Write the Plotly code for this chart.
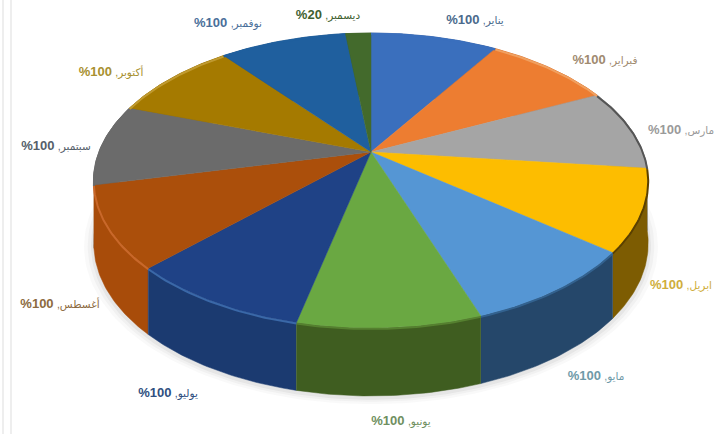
import numpy as np
import plotly.graph_objects as go

months = ["يناير", "فبراير", "مارس", "ابريل", "مايو", "يونيو", "يوليو", "أغسطس", "سبتمبر", "أكتوبر", "نوفمبر", "ديسمبر"]
values = [100, 100, 100, 100, 100, 100, 100, 100, 100, 100, 100, 20]
percent_labels = [100, 100, 100, 100, 100, 100, 100, 100, 100, 100, 100, 20]
top_colors = ["#3a6fbd", "#ed7d31", "#a5a5a5", "#fdbd00", "#5596d4", "#6aa842", "#1f4286", "#ab4f0b", "#6b6b6b", "#a57a00", "#1f5f9e", "#436a2c"]
wall_colors = ["#2a5190", "#b35a20", "#777777", "#7d5c02", "#25476a", "#3f5d20", "#1b3a70", "#a84c0a", "#555555", "#7a5a00", "#174a7a", "#304d20"]
rim_colors = ["#3a6fbd", "#f0a060", "#555555", "#5a4000", "#33628f", "#55802f", "#3a68a8", "#c9682a", "#6b6b6b", "#c09a30", "#1f5f9e", "#436a2c"]
label_colors = ["#4a6a8c", "#a08a70", "#9a9a9a", "#cfae3c", "#6f9aa8", "#6f8f60", "#2f4f80", "#8c6a40", "#55606a", "#a89030", "#4a6f9a", "#3f5f30"]
label_x = [475, 605, 681, 681, 596, 401, 168, 60, 56, 111, 228, 328]
label_y = [21, 61, 131, 286, 377, 422, 394, 305, 147, 73, 24, 16]

W, H = 717, 434
HUB_X, HUB_Y = 371, 152
A, C, K = 272, 142, 0.193  # perspective disc


def project(theta):
    X, Y = np.sin(theta), np.cos(theta)
    den = 1 + K * Y
    return A * X / den, C * Y / den, Y


def depth(Y):
    return 62 + 6 * np.clip(-Y, 0, 1)


fig = go.Figure()
fractions = np.cumsum([0] + values) / sum(values) * 2 * np.pi

# soft shadow under the disc
t = np.linspace(0, 2 * np.pi, 240)
sx, sy, sY = project(t)
for grow, op in [(1.035, 0.035), (1.022, 0.05), (1.01, 0.07)]:
    fig.add_trace(go.Scatter(x=sx * grow, y=sy * grow - depth(sY) - 2, mode="lines", fill="toself",
                             fillcolor=f"rgba(90,90,90,{op})", line=dict(width=0), hoverinfo="skip"))

# walls, back to front
order = sorted(range(len(values)), key=lambda i: np.cos((fractions[i] + fractions[i + 1]) / 2), reverse=True)
for i in order:
    th = np.linspace(fractions[i], fractions[i + 1], 40)
    x, y, Y = project(th)
    by = y - depth(Y)
    fig.add_trace(go.Scatter(x=np.r_[x, x[::-1]], y=np.r_[y, by[::-1]], mode="lines", fill="toself",
                             fillcolor=wall_colors[i], line=dict(width=0.5, color=wall_colors[i]), hoverinfo="skip"))

# top surface
for i in range(len(values)):
    th = np.linspace(fractions[i], fractions[i + 1], 40)
    x, y, Y = project(th)
    fig.add_trace(go.Scatter(x=np.r_[0, x, 0], y=np.r_[0, y, 0], mode="lines", fill="toself",
                             fillcolor=top_colors[i], line=dict(width=0.5, color=top_colors[i]), hoverinfo="skip"))

# bevel along the rim
for i in range(len(values)):
    th = np.linspace(fractions[i], fractions[i + 1], 40)
    x, y, Y = project(th)
    fig.add_trace(go.Scatter(x=x, y=y - 1, mode="lines", line=dict(width=2, color=rim_colors[i]), hoverinfo="skip"))

# labels
texts = [f'<span style="font-size:13px"><b>%{p}</b></span> <span style="font-size:10.5px">,{m}</span>'
         for p, m in zip(percent_labels, months)]
for i in range(len(texts)):
    fig.add_trace(go.Scatter(x=[label_x[i] - HUB_X], y=[HUB_Y - label_y[i]], mode="text", text=[texts[i]],
                             textposition="middle center",
                             textfont=dict(family="Liberation Sans, DejaVu Sans", size=12, color=label_colors[i]),
                             hoverinfo="skip", cliponaxis=False))

fig.update_layout(
    width=W, height=H, autosize=False, showlegend=False,
    margin=dict(l=0, r=0, t=0, b=0), paper_bgcolor="white", plot_bgcolor="white",
    xaxis=dict(range=[-HUB_X, W - HUB_X], visible=False, fixedrange=True),
    yaxis=dict(range=[HUB_Y - H, HUB_Y], visible=False, fixedrange=True),
    shapes=[dict(type="line", xref="paper", yref="paper", x0=p / W, x1=p / W, y0=0, y1=1,
                 line=dict(color="#e8e8e8", width=1.5)) for p in (3, 11)],
)
fig.write_html("out.html", config={"displayModeBar": False}, default_width=f"{W}px", default_height=f"{H}px",
               post_script="document.body.style.margin='0';document.body.style.overflow='hidden';")
